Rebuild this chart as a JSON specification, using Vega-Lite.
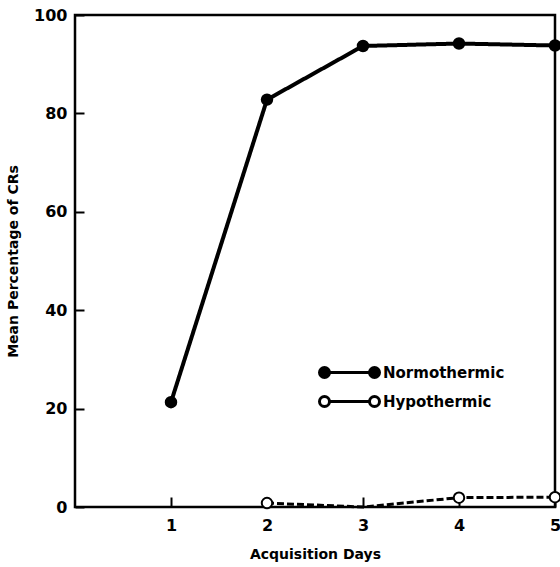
{
  "$schema": "https://vega.github.io/schema/vega-lite/v6.json",
  "autosize": "none",
  "width": 480,
  "height": 492,
  "padding": {"left": 75, "top": 15, "right": 5, "bottom": 60},
  "background": "white",
  "config": {
    "font": "DejaVu Sans",
    "view": {"stroke": "black", "strokeWidth": 2.5},
    "axis": {"grid": false, "domain": false, "labelFont": "DejaVu Sans", "labelFontWeight": "bold", "labelFontSize": 16, "labelColor": "black", "titleFont": "DejaVu Sans", "titleFontWeight": "bold", "titleFontSize": 14, "titleColor": "black", "tickColor": "black", "tickWidth": 2}
  },
  "data": {
    "values": [
      {"day": 1, "pct": 21.3, "group": "Normothermic"},
      {"day": 2, "pct": 82.8, "group": "Normothermic"},
      {"day": 3, "pct": 93.7, "group": "Normothermic"},
      {"day": 4, "pct": 94.2, "group": "Normothermic"},
      {"day": 5, "pct": 93.8, "group": "Normothermic"},
      {"day": 2, "pct": 0.8, "group": "Hypothermic"},
      {"day": 3, "pct": 0, "group": "Hypothermic"},
      {"day": 4, "pct": 1.9, "group": "Hypothermic"},
      {"day": 5, "pct": 2.0, "group": "Hypothermic"}
    ]
  },
  "encoding": {
    "x": {"field": "day", "type": "quantitative", "scale": {"domain": [0, 5], "nice": false},
      "axis": {"values": [1, 2, 3, 4, 5], "offset": -10, "tickSize": 10, "labelPadding": 10, "title": "Acquisition Days", "titlePadding": 14, "labelFlush": false}},
    "y": {"field": "pct", "type": "quantitative", "scale": {"domain": [0, 100], "nice": false},
      "axis": {"values": [0, 20, 40, 60, 80, 100], "offset": -9, "tickSize": 9, "labelPadding": 8, "title": "Mean Percentage of CRs", "titlePadding": 13, "labelFlush": false}}
  },
  "layer": [
    {
      "mark": {"type": "line", "color": "black"},
      "encoding": {
        "detail": {"field": "group"},
        "strokeWidth": {"field": "group", "type": "nominal", "scale": {"domain": ["Hypothermic", "Normothermic"], "range": [3, 4]}, "legend": null},
        "strokeDash": {"field": "group", "type": "nominal", "scale": {"domain": ["Hypothermic", "Normothermic"], "range": [[7, 3], [1, 0]]}, "legend": null}
      }
    },
    {
      "transform": [{"filter": "datum.pct > 0"}],
      "mark": {"type": "point", "shape": "circle", "stroke": "black", "strokeWidth": 2, "opacity": 1, "filled": true, "size": 110},
      "encoding": {
        "fill": {"field": "group", "type": "nominal", "scale": {"domain": ["Normothermic", "Hypothermic"], "range": ["black", "white"]},
          "legend": {
            "title": null,
            "orient": "none",
            "legendX": 243,
            "legendY": 346,
            "padding": 0,
            "symbolSize": 400,
            "symbolType": "M0,0L4,0M-1,0C-1,-0.276 -0.776,-0.5 -0.5,-0.5C-0.224,-0.5 0,-0.276 0,0C0,0.276 -0.224,0.5 -0.5,0.5C-0.776,0.5 -1,0.276 -1,0ZM4,0C4,-0.276 4.224,-0.5 4.5,-0.5C4.776,-0.5 5,-0.276 5,0C5,0.276 4.776,0.5 4.5,0.5C4.224,0.5 4,0.276 4,0Z",
            "symbolStrokeWidth": 3,
            "symbolStrokeColor": "black",
            "symbolOpacity": 1,
            "rowPadding": 6,
            "labelOffset": 42,
            "labelFont": "DejaVu Sans",
            "labelFontWeight": "bold",
            "labelFontSize": 15,
            "labelColor": "black"
          }
        }
      }
    }
  ]
}
